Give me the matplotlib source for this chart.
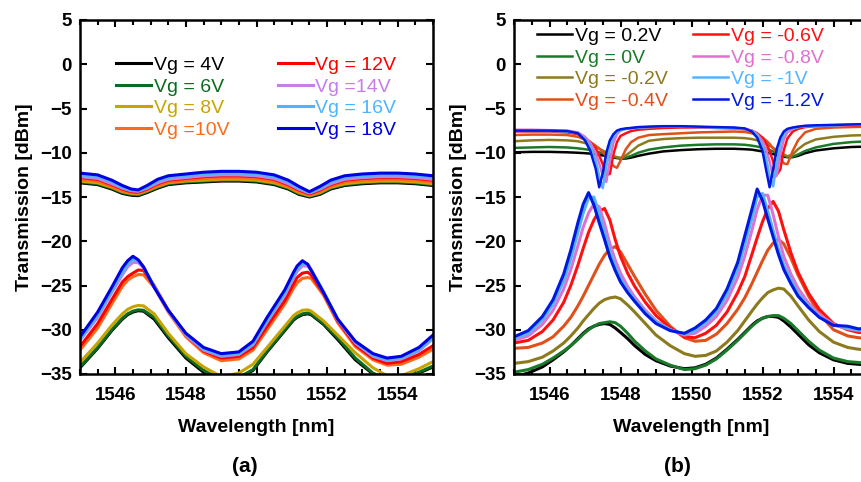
import matplotlib
matplotlib.use("Agg")
import matplotlib.pyplot as plt
from matplotlib.ticker import MultipleLocator

plt.rcParams['font.family'] = ['Liberation Sans', 'DejaVu Sans']

# ---------------- panel (a) ----------------
labels_a = ["Vg = 4V", "Vg = 6V", "Vg = 8V", "Vg =10V",
            "Vg = 12V", "Vg =14V", "Vg = 16V", "Vg = 18V"]
colors_a = ["#000000", "#0b6b1e", "#c8a400", "#ff6a1a",
            "#ff0000", "#c77ee6", "#4fb3ff", "#0000e0"]

wl_a_thru = [1545.0, 1545.5, 1545.9, 1546.2, 1546.45, 1546.65, 1546.9, 1547.2, 1547.5,
             1548.0, 1548.5, 1549.0, 1549.5, 1550.0, 1550.5, 1550.9, 1551.2, 1551.5,
             1551.8, 1552.1, 1552.5, 1553.0, 1553.5, 1554.0, 1554.5, 1555.0]
thru_a_4 = [-13.4, -13.6, -14.1, -14.6, -14.8, -14.85, -14.5, -14.0, -13.6, -13.4, -13.3, -13.2, -13.2,
            -13.3, -13.6, -14.1, -14.7, -15.0, -14.7, -14.1, -13.7, -13.5, -13.4, -13.4, -13.5, -13.7]
thru_a_6 = [-13.3, -13.5, -14.0, -14.5, -14.7, -14.75, -14.4, -13.9, -13.5, -13.3, -13.2, -13.1, -13.1,
            -13.2, -13.5, -14.0, -14.6, -14.9, -14.6, -14.0, -13.6, -13.4, -13.3, -13.3, -13.4, -13.6]
thru_a_8 = [-13.2, -13.4, -13.9, -14.4, -14.6, -14.65, -14.3, -13.8, -13.4, -13.2, -13.1, -13.0, -13.0,
            -13.1, -13.4, -13.9, -14.5, -14.85, -14.5, -13.9, -13.5, -13.3, -13.2, -13.2, -13.3, -13.5]
thru_a_10 = [-13.0, -13.2, -13.8, -14.3, -14.5, -14.55, -14.2, -13.7, -13.3, -13.1, -12.9, -12.8, -12.8,
             -12.9, -13.2, -13.8, -14.4, -14.75, -14.4, -13.8, -13.3, -13.1, -13.0, -13.0, -13.1, -13.3]
thru_a_12 = [-12.8, -13.0, -13.6, -14.1, -14.4, -14.45, -14.1, -13.5, -13.1, -12.9, -12.7, -12.6, -12.6,
             -12.7, -13.0, -13.6, -14.2, -14.65, -14.2, -13.6, -13.1, -12.9, -12.8, -12.8, -12.9, -13.1]
thru_a_14 = [-12.7, -12.9, -13.5, -14.0, -14.3, -14.35, -14.0, -13.4, -13.0, -12.8, -12.6, -12.5, -12.5,
             -12.6, -12.9, -13.5, -14.1, -14.55, -14.1, -13.5, -13.0, -12.8, -12.7, -12.7, -12.8, -13.0]
thru_a_16 = [-12.5, -12.7, -13.3, -13.9, -14.2, -14.3, -13.9, -13.2, -12.8, -12.6, -12.4, -12.3, -12.3,
             -12.4, -12.7, -13.3, -14.0, -14.5, -14.0, -13.3, -12.8, -12.6, -12.5, -12.5, -12.6, -12.8]
thru_a_18 = [-12.3, -12.5, -13.1, -13.7, -14.1, -14.2, -13.7, -13.0, -12.6, -12.4, -12.2, -12.1, -12.1,
             -12.2, -12.5, -13.1, -13.8, -14.4, -13.8, -13.1, -12.6, -12.4, -12.3, -12.3, -12.4, -12.6]

wl_a_drop = [1545.0, 1545.5, 1545.9, 1546.2, 1546.35, 1546.5, 1546.65, 1546.8, 1547.1, 1547.5,
             1548.0, 1548.5, 1549.0, 1549.5, 1549.9, 1550.3, 1550.8, 1551.05, 1551.15, 1551.3,
             1551.45, 1551.55, 1551.9, 1552.3, 1552.8, 1553.3, 1553.7, 1554.1, 1554.6, 1555.0]
drop_a_4 = [-34.3, -32.1, -30.1, -28.8, -28.3, -28.0, -27.85, -27.9, -28.8, -30.9,
            -33.2, -34.8, -35.7, -35.5, -34.6, -32.5, -30.1, -28.9, -28.6, -28.3,
            -28.2, -28.3, -29.4, -31.1, -33.4, -35.0, -35.7, -35.6, -34.9, -34.2]
drop_a_6 = [-34.2, -32.0, -30.0, -28.7, -28.2, -27.9, -27.75, -27.8, -28.6, -30.7,
            -33.0, -34.6, -35.6, -35.4, -34.5, -32.4, -30.0, -28.8, -28.5, -28.2,
            -28.1, -28.2, -29.3, -30.9, -33.2, -34.9, -35.6, -35.5, -34.8, -34.1]
drop_a_8 = [-33.7, -31.5, -29.5, -28.2, -27.7, -27.4, -27.25, -27.3, -28.2, -30.4,
            -32.7, -34.2, -35.3, -34.9, -33.9, -32.0, -29.6, -28.4, -28.1, -27.8,
            -27.75, -27.9, -29.0, -30.6, -32.6, -34.3, -35.2, -35.2, -34.4, -33.6]
drop_a_10 = [-32.3, -29.8, -27.1, -25.1, -24.4, -24.0, -23.75, -23.8, -25.2, -28.0,
             -30.8, -32.6, -33.5, -33.3, -32.3, -30.0, -27.1, -25.3, -24.7, -24.2,
             -24.1, -24.2, -26.1, -29.2, -31.9, -33.4, -34.0, -33.9, -33.1, -32.2]
drop_a_12 = [-31.9, -29.3, -26.6, -24.6, -24.0, -23.6, -23.25, -23.3, -25.0, -27.8,
             -30.6, -32.4, -33.2, -33.0, -32.0, -29.6, -26.7, -24.8, -24.1, -23.6,
             -23.5, -23.8, -25.9, -29.0, -31.7, -33.2, -33.8, -33.6, -32.8, -31.8]
drop_a_14 = [-31.2, -28.6, -25.8, -23.8, -22.9, -22.4, -22.4, -23.0, -25.1, -27.9,
             -30.6, -32.3, -33.0, -32.8, -31.7, -29.1, -26.1, -24.1, -23.4, -22.8,
             -22.8, -23.3, -25.8, -28.9, -31.5, -33.0, -33.5, -33.3, -32.4, -31.0]
drop_a_16 = [-31.1, -28.4, -25.6, -23.5, -22.6, -22.0, -22.2, -22.9, -25.1, -27.8,
             -30.5, -32.2, -32.9, -32.7, -31.6, -29.0, -25.9, -23.9, -23.1, -22.5,
             -22.6, -23.2, -25.7, -28.8, -31.4, -32.9, -33.4, -33.2, -32.3, -30.9]
drop_a_18 = [-30.8, -28.0, -25.2, -23.0, -22.2, -21.7, -22.1, -22.9, -25.2, -27.8,
             -30.4, -32.0, -32.7, -32.5, -31.3, -28.6, -25.5, -23.5, -22.8, -22.2,
             -22.6, -23.3, -25.8, -28.8, -31.3, -32.7, -33.2, -33.0, -32.0, -30.6]

thru_a = [thru_a_4, thru_a_6, thru_a_8, thru_a_10, thru_a_12, thru_a_14, thru_a_16, thru_a_18]
drop_a = [drop_a_4, drop_a_6, drop_a_8, drop_a_10, drop_a_12, drop_a_14, drop_a_16, drop_a_18]

# ---------------- panel (b) ----------------
labels_b = ["Vg = 0.2V", "Vg = 0V", "Vg = -0.2V", "Vg = -0.4V",
            "Vg = -0.6V", "Vg = -0.8V", "Vg = -1V", "Vg = -1.2V"]
colors_b = ["#000000", "#1a7a2a", "#8c7a1e", "#e0501a",
            "#ff1010", "#e070d0", "#55b4ff", "#0018e0"]

wl_b_thru = [1545.0, 1545.5, 1546.0, 1546.5, 1546.8, 1547.0, 1547.15, 1547.3, 1547.4, 1547.5,
             1547.6, 1547.7, 1547.8, 1547.9, 1548.0, 1548.15, 1548.3, 1548.5, 1548.8, 1549.2,
             1549.7, 1550.2, 1550.7, 1551.2, 1551.5, 1551.7, 1551.85, 1552.0, 1552.1, 1552.2,
             1552.3, 1552.4, 1552.5, 1552.6, 1552.7, 1552.85, 1553.0, 1553.2, 1553.5, 1554.0,
             1554.5, 1555.0]
thru_b_p02 = [-9.95, -9.9, -9.9, -9.95, -10.0, -10.05, -10.1, -10.2, -10.25, -10.3,
              -10.35, -10.45, -10.55, -10.6, -10.65, -10.65, -10.55, -10.35, -10.1, -9.85,
              -9.7, -9.6, -9.55, -9.55, -9.6, -9.65, -9.75, -9.85, -9.95, -10.05,
              -10.15, -10.25, -10.35, -10.45, -10.5, -10.5, -10.35, -10.05, -9.75, -9.5,
              -9.35, -9.3]
thru_b_0 = [-9.45, -9.4, -9.35, -9.4, -9.5, -9.6, -9.7, -9.85, -9.95, -10.05,
            -10.15, -10.3, -10.45, -10.55, -10.6, -10.55, -10.35, -10.0, -9.65, -9.4,
            -9.2, -9.1, -9.05, -9.05, -9.1, -9.2, -9.3, -9.45, -9.55, -9.7,
            -9.85, -10.0, -10.15, -10.3, -10.45, -10.45, -10.2, -9.8, -9.4, -9.0,
            -8.8, -8.7]
thru_b_m02 = [-8.7, -8.6, -8.55, -8.6, -8.7, -8.9, -9.1, -9.35, -9.55, -9.75,
              -9.95, -10.15, -10.35, -10.5, -10.6, -10.3, -9.85, -9.2, -8.65, -8.45,
              -8.35, -8.3, -8.3, -8.3, -8.35, -8.45, -8.6, -8.8, -9.0, -9.2,
              -9.45, -9.7, -9.95, -10.2, -10.4, -10.2, -9.6, -9.0, -8.5, -8.2,
              -8.05, -8.0]
thru_b_m04 = [-8.0, -7.95, -7.95, -8.0, -8.2, -8.5, -8.8, -9.2, -9.5, -9.9,
              -10.4, -10.9, -11.5, -11.7, -10.9, -9.6, -8.8, -8.3, -8.0, -7.9,
              -7.8, -7.7, -7.65, -7.6, -7.65, -7.8, -8.0, -8.3, -8.6, -9.0,
              -9.5, -10.0, -10.6, -11.2, -11.3, -9.8, -8.6, -7.7, -7.3, -7.15,
              -7.1, -7.05]
thru_b_m06 = [-7.6, -7.6, -7.6, -7.7, -7.9, -8.3, -8.8, -9.5, -10.3, -11.3,
              -12.5, -12.4, -10.2, -8.8, -8.1, -7.8, -7.55, -7.4, -7.3, -7.2,
              -7.15, -7.15, -7.2, -7.25, -7.35, -7.5, -7.8, -8.3, -8.9, -9.8,
              -11.0, -12.5, -11.9, -9.7, -8.4, -7.6, -7.3, -7.1, -7.0, -6.95,
              -6.9, -6.85]
thru_b_m08 = [-7.4, -7.4, -7.45, -7.5, -7.7, -8.2, -8.9, -10.0, -11.2, -12.6,
              -13.3, -10.9, -8.9, -7.9, -7.5, -7.3, -7.2, -7.15, -7.1, -7.05,
              -7.05, -7.1, -7.15, -7.2, -7.3, -7.5, -7.9, -8.7, -9.6, -11.0,
              -12.8, -12.6, -10.2, -8.5, -7.7, -7.3, -7.1, -7.0, -6.95, -6.9,
              -6.85, -6.8]
thru_b_m10 = [-7.55, -7.55, -7.55, -7.6, -7.8, -8.4, -9.3, -10.8, -12.6, -14.0,
              -11.6, -9.4, -8.2, -7.7, -7.45, -7.3, -7.25, -7.15, -7.1, -7.05,
              -7.05, -7.1, -7.15, -7.2, -7.3, -7.55, -8.0, -9.2, -10.6, -12.6,
              -13.8, -11.2, -9.0, -7.9, -7.4, -7.2, -7.1, -7.0, -6.95, -6.9,
              -6.85, -6.8]
thru_b_m12 = [-7.5, -7.5, -7.5, -7.55, -7.8, -8.6, -9.8, -11.8, -13.9, -12.3,
              -10.0, -8.6, -7.9, -7.5, -7.35, -7.25, -7.2, -7.1, -7.05, -7.0,
              -7.0, -7.05, -7.1, -7.15, -7.25, -7.6, -8.3, -9.8, -11.9, -13.9,
              -11.8, -9.6, -8.3, -7.6, -7.3, -7.15, -7.05, -6.95, -6.9, -6.85,
              -6.8, -6.75]

wl_b_drop = [1545.0, 1545.4, 1545.8, 1546.1, 1546.4, 1546.6, 1546.8, 1546.95, 1547.1, 1547.25,
             1547.4, 1547.55, 1547.7, 1547.85, 1548.0, 1548.2, 1548.4, 1548.7, 1549.0, 1549.4,
             1549.8, 1550.1, 1550.4, 1550.7, 1551.0, 1551.3, 1551.5, 1551.7, 1551.85, 1552.0,
             1552.15, 1552.3, 1552.45, 1552.6, 1552.8, 1553.0, 1553.3, 1553.6, 1554.0, 1554.4,
             1554.7, 1555.0]
drop_b_p02 = [-35.3, -34.9, -34.2, -33.4, -32.5, -31.8, -31.0, -30.4, -29.9, -29.6,
              -29.4, -29.3, -29.4, -29.8, -30.3, -31.0, -31.8, -32.8, -33.5, -34.1,
              -34.4, -34.3, -33.9, -33.2, -32.2, -31.1, -30.3, -29.5, -29.0, -28.7,
              -28.5, -28.5, -28.6, -29.0, -29.7, -30.5, -31.7, -32.6, -33.4, -33.8,
              -33.9, -34.0]
drop_b_0 = [-34.8, -34.5, -33.9, -33.2, -32.4, -31.8, -31.1, -30.5, -30.0, -29.6,
            -29.3, -29.2, -29.1, -29.2, -29.6, -30.4, -31.3, -32.4, -33.3, -34.0,
            -34.5, -34.4, -34.0, -33.3, -32.3, -31.2, -30.4, -29.6, -29.1, -28.7,
            -28.5, -28.4, -28.4, -28.7, -29.3, -30.1, -31.3, -32.3, -33.2, -33.6,
            -33.7, -33.8]
drop_b_m02 = [-33.8, -33.6, -33.1, -32.4, -31.5, -30.7, -29.8, -29.0, -28.3, -27.6,
              -27.0, -26.6, -26.4, -26.3, -26.5, -27.2, -28.0, -29.3, -30.6, -31.8,
              -32.7, -33.0, -32.9, -32.4, -31.4, -30.1, -29.0, -27.9, -27.1, -26.4,
              -25.8, -25.5, -25.3, -25.4, -26.2, -27.3, -28.9, -30.2, -31.4, -32.0,
              -32.2, -32.3]
drop_b_m04 = [-32.1, -32.0, -31.5, -30.8, -29.6, -28.6, -27.3, -26.2, -25.0, -23.8,
              -22.6, -21.6, -20.9, -20.6, -21.2, -22.6, -24.0, -26.0, -27.8, -29.6,
              -30.9, -31.3, -31.2, -30.5, -29.3, -27.7, -26.4, -24.8, -23.5, -22.2,
              -21.0, -20.2, -19.8, -20.3, -21.9, -23.8, -26.2, -28.2, -30.0, -30.7,
              -30.9, -31.0]
drop_b_m06 = [-31.5, -31.2, -30.2, -28.9, -26.9, -25.0, -22.7, -20.8, -19.0, -17.6,
              -16.6, -16.3, -17.6, -19.8, -21.7, -23.6, -25.1, -26.9, -28.4, -29.8,
              -30.8, -30.9, -30.4, -29.5, -28.0, -25.8, -24.0, -21.5, -19.6, -17.8,
              -16.3, -15.5, -16.6, -18.7, -21.3, -23.5, -25.9, -27.7, -29.3, -30.0,
              -30.3, -30.3]
drop_b_m08 = [-31.2, -30.7, -29.4, -27.8, -25.4, -23.2, -20.5, -18.4, -16.8, -15.8,
              -16.1, -18.0, -20.3, -22.1, -23.6, -25.1, -26.3, -27.8, -29.0, -30.0,
              -30.6, -30.4, -29.6, -28.5, -26.7, -24.1, -21.7, -18.8, -16.4, -14.8,
              -14.8, -17.0, -19.5, -21.7, -23.7, -25.3, -27.0, -28.3, -29.4, -29.9,
              -30.1, -30.1]
drop_b_m10 = [-31.0, -30.4, -28.9, -27.1, -24.5, -22.0, -19.0, -16.8, -15.1, -15.0,
              -16.9, -19.0, -21.1, -22.8, -24.2, -25.5, -26.6, -28.0, -29.1, -30.0,
              -30.5, -30.1, -29.2, -28.0, -26.0, -23.2, -20.4, -17.4, -15.0, -14.6,
              -16.6, -18.8, -20.9, -22.7, -24.4, -25.9, -27.3, -28.5, -29.5, -29.8,
              -30.0, -29.9]
drop_b_m12 = [-30.8, -30.1, -28.5, -26.6, -23.7, -21.0, -17.9, -15.8, -14.5, -15.9,
              -17.9, -19.8, -21.8, -23.3, -24.6, -25.8, -26.8, -28.2, -29.3, -30.1,
              -30.4, -29.8, -28.9, -27.6, -25.4, -22.4, -19.4, -16.4, -14.1, -15.4,
              -17.5, -19.5, -21.5, -23.2, -24.8, -26.2, -27.5, -28.6, -29.5, -29.6,
              -29.9, -29.8]

thru_b = [thru_b_p02, thru_b_0, thru_b_m02, thru_b_m04, thru_b_m06, thru_b_m08, thru_b_m10, thru_b_m12]
drop_b = [drop_b_p02, drop_b_0, drop_b_m02, drop_b_m04, drop_b_m06, drop_b_m08, drop_b_m10, drop_b_m12]


def style_axes(ax):
    ax.set_xlim(1545, 1555)
    ax.set_ylim(-35, 5)
    ax.xaxis.set_major_locator(MultipleLocator(2))
    ax.xaxis.set_minor_locator(MultipleLocator(0.5))
    ax.yaxis.set_major_locator(MultipleLocator(5))
    ax.tick_params(which='both', direction='in', top=True, right=True, width=1.5)
    ax.tick_params(which='major', length=5, labelsize=13.5)
    ax.tick_params(axis='x', which='major', pad=9)
    ax.tick_params(axis='y', which='major', pad=6)
    ax.tick_params(which='minor', length=3.5)
    for lab in ax.get_xticklabels() + ax.get_yticklabels():
        lab.set_fontweight('bold')
    for sp in ax.spines.values():
        sp.set_linewidth(1.8)
    ax.set_xlabel("Wavelength [nm]", fontsize=14, fontweight='bold', labelpad=11)
    ax.set_ylabel("Transmission [dBm]", fontsize=14, fontweight='bold', labelpad=5)


fig = plt.figure(figsize=(8.62, 4.82), dpi=100)
ax_a = fig.add_axes([80 / 862, 1 - 374 / 482, 353 / 862, 354 / 482])
ax_b = fig.add_axes([514 / 862, 1 - 374 / 482, 355 / 862, 354 / 482])

for i in range(8):
    ax_a.plot(wl_a_thru, thru_a[i], color=colors_a[i], lw=2.2, label=labels_a[i])
    ax_a.plot(wl_a_drop, drop_a[i], color=colors_a[i], lw=2.2)
for i in range(8):
    ax_b.plot(wl_b_thru, thru_b[i], color=colors_b[i], lw=1.8, label=labels_b[i])
    ax_b.plot(wl_b_drop, drop_b[i], color=colors_b[i], lw=2.2)

for ax in (ax_a, ax_b):
    style_axes(ax)

leg_kw = dict(ncol=2, frameon=False, fontsize=14, handlelength=1.8, handletextpad=0.15,
              labelspacing=0.2, labelcolor='linecolor', borderaxespad=0.2)
ax_a.legend(loc='upper left', bbox_to_anchor=(0.07, 0.93), columnspacing=2.45, **leg_kw)
ax_b.legend(loc='upper left', bbox_to_anchor=(0.032, 1.012), columnspacing=1.3, **leg_kw)

fig.text(245 / 862, 1 - 467 / 482, "(a)", fontsize=15, fontweight='bold', ha='center', va='center')
fig.text(677 / 862, 1 - 467 / 482, "(b)", fontsize=15, fontweight='bold', ha='center', va='center')

fig.savefig("out.png", dpi=100)
